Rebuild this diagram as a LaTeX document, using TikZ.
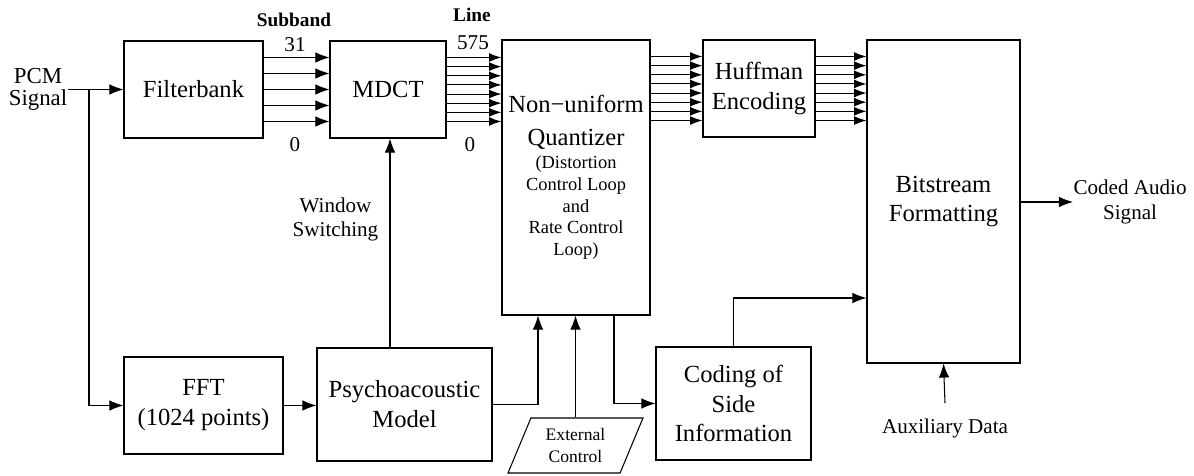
\documentclass[tikz,border=0pt]{standalone}
\usepackage{fontspec}
\setmainfont{Liberation Serif}
\usepackage{tikz}
\usetikzlibrary{arrows.meta, shapes.geometric}

\begin{document}
\begin{tikzpicture}[>={Latex[length=8pt,width=6pt]}, line width=0.6pt,
    blk/.style={draw, align=center, inner sep=0pt, font=\fontsize{14}{17}\selectfont},
    lbl/.style={align=center, inner sep=0pt, font=\fontsize{12}{14}\selectfont},
    bus/.style={->, >={Latex[length=7pt,width=5pt]}}]
    \useasboundingbox (0,0) rectangle (23.88,9.5);

    % Blocks
    \node[blk, minimum width=2.78cm, minimum height=1.94cm] (fb) at (3.87,7.71) {Filterbank};
    \node[blk, minimum width=2.32cm, minimum height=1.94cm] (mdct) at (7.76,7.71) {MDCT};
    \node[blk, minimum width=2.96cm, minimum height=5.5cm, font=\fontsize{10.5}{12.4}\selectfont] (q) at (11.52,5.95)
      {\fontsize{14}{17}\selectfont Non−uniform\\[6pt] \fontsize{14}{17}\selectfont Quantizer\\[1pt] (Distortion\\
       Control Loop\\ and\\ Rate Control\\ Loop)};
    \node[blk, minimum width=2.24cm, minimum height=1.94cm] (huff) at (15.18,7.73) {Huffman\\Encoding};
    \node[blk, minimum width=3.06cm, minimum height=6.46cm] (bs) at (18.87,5.47) {Bitstream\\Formatting};
    \node[blk, minimum width=3.18cm, minimum height=1.94cm] (fft) at (4.07,1.39) {FFT\\(1024 points)};
    \node[blk, minimum width=3.5cm, minimum height=2.26cm] (psy) at (8.09,1.41) {Psychoacoustic\\Model};
    \node[blk, minimum width=3.1cm, minimum height=2.26cm] (side) at (14.67,1.43) {Coding of\\Side\\Information};
    \node[blk, trapezium, trapezium left angle=66, trapezium right angle=114, trapezium stretches=true,
      minimum width=2.7cm, minimum height=1.1cm, font=\fontsize{10}{12.5}\selectfont]
      (ext) at (11.51,0.59) {External\\Control};

    % Texts
    \node[lbl, font=\fontsize{13}{12.5}\selectfont] (pcm) at (0.76,7.71) {PCM\\Signal};
    \node[lbl, anchor=west] (out) at (21.46,5.46) {Coded Audio\\Signal};
    \node[lbl] (aux) at (18.9,0.94) {Auxiliary Data};
    \node[lbl] (win) at (6.71,5.11) {Window\\Switching};
    \node[lbl, font=\bfseries\fontsize{11}{13}\selectfont] (sbt) at (5.88,9.1) {Subband};
    \node[lbl] (sbhi) at (5.9,8.6) {31};
    \node[lbl] (sblo) at (5.9,6.6) {0};
    \node[lbl, font=\bfseries\fontsize{11}{13}\selectfont] (lnt) at (9.44,9.2) {Line};
    \node[lbl] (lnhi) at (9.46,8.64) {575};
    \node[lbl] (lnlo) at (9.4,6.6) {0};

    % Input
    \coordinate (split) at (1.78,7.71);
    \draw[->] (pcm.east) -- (fb.west);
    \draw[->] (split) |- (fft.west);
    \draw[->] (fft.east) -- (fft.east -| psy.west);

    % Subbands and lines
    \foreach \y in {-0.64,-0.32,0,0.32,0.64}
      \draw[->] ([yshift=\y cm]fb.east) -- ([yshift=\y cm]mdct.west);
    \foreach \y in {-0.64,-0.457,-0.274,-0.091,0.091,0.274,0.457,0.64} {
      \path ([yshift=\y cm]mdct.east) coordinate (me)
            ([yshift=\y cm]huff.west) coordinate (hw)
            ([yshift=\y cm]huff.east) coordinate (he);
      \draw[bus] (me) -- (me -| q.west);
      \draw[bus] (hw -| q.east) -- (hw);
      \draw[bus] (he) -- (he -| bs.west);
    }

    % Control paths
    \draw[->] ([xshift=-0.29cm]psy.north) coordinate (w) -- (w |- mdct.south);
    \draw[->] (psy.east) -| ([xshift=-0.76cm]q.south);
    \draw[->] (ext.north) -- (ext.north |- q.south);
    \draw[->] ([xshift=0.76cm]q.south) |- (side.west);
    \draw[->] (side.north) |- ([yshift=-1.93cm]bs.west);
    \draw[->] (bs.east |- out.west) -- (out.west);
    \draw[->] (aux.north) ++(0,0.3) -- (bs.south);
\end{tikzpicture}
\end{document}
